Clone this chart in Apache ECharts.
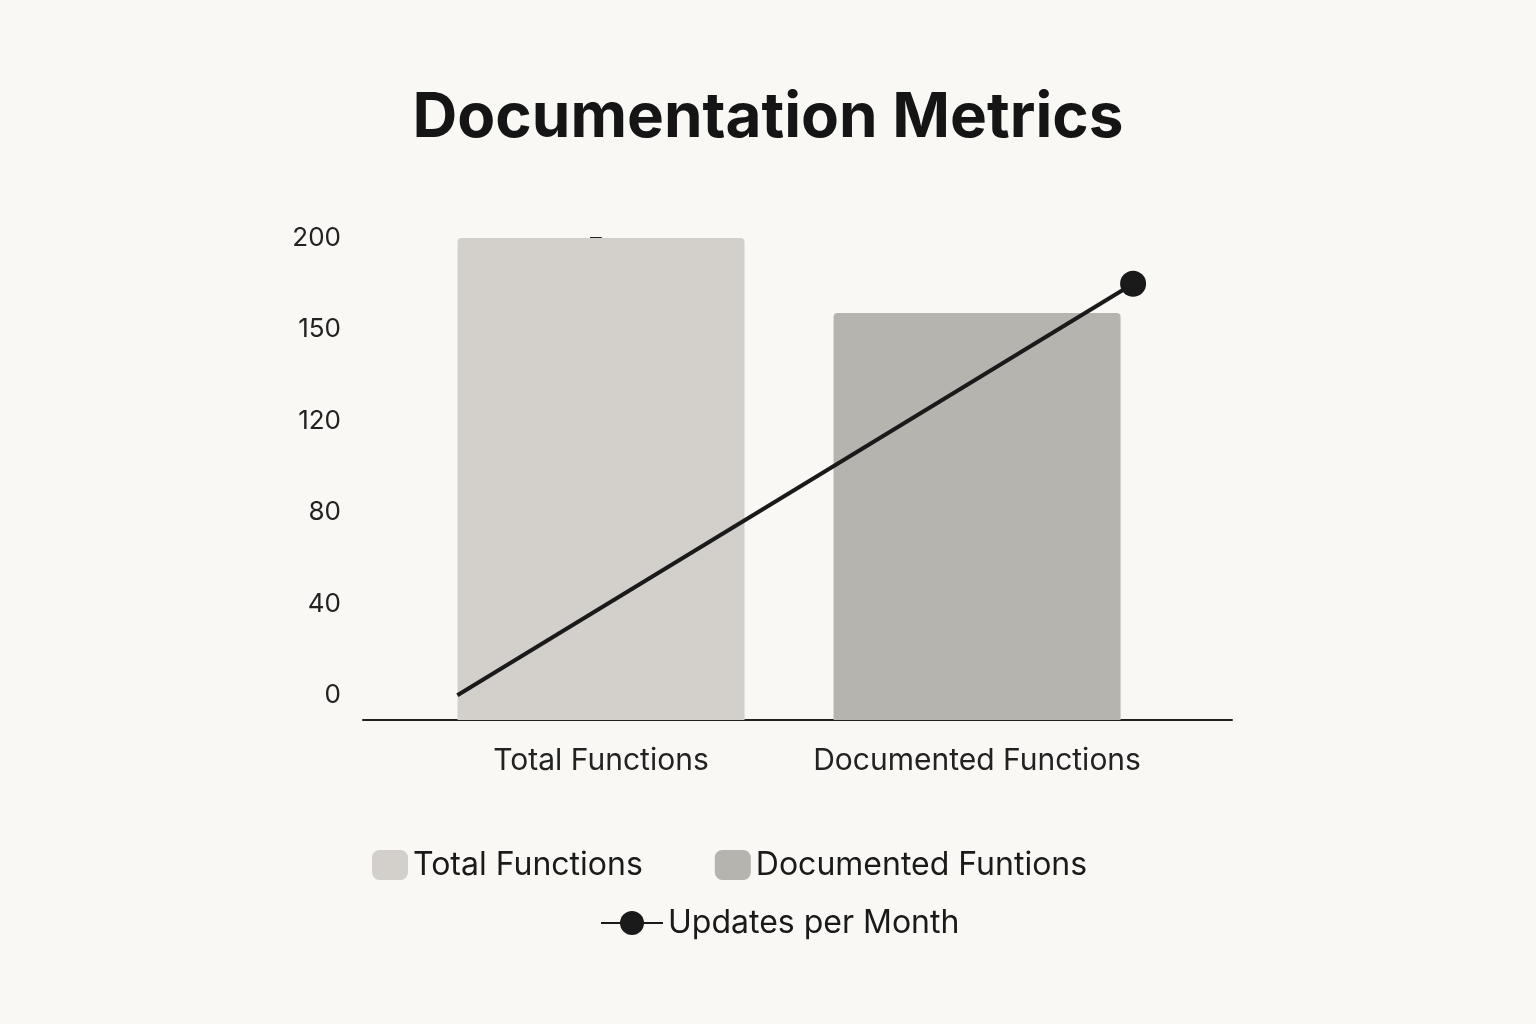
<!DOCTYPE html><html><head><meta charset="utf-8">
<script src="https://cdn.jsdelivr.net/npm/echarts@6/dist/echarts.min.js"></script>
<style>html,body{margin:0;background:#f9f8f4}#c{width:1536px;height:1024px}</style></head><body><div id="c"></div><script>
const categories=['Total Functions','Documented Functions'];
const yTickLabels=[0,40,80,120,150,200];
const totalFunctions=[200];
const documentedFunctions=[159];
const updatesPerMonth=[0,175];
const OFF=0.27;
function toIdx(v){for(let i=0;i<yTickLabels.length-1;i++){const a=yTickLabels[i],b=yTickLabels[i+1];if(v<=b)return OFF+i+(v-a)/(b-a);}return OFF+yTickLabels.length-1;}
const ticks=yTickLabels.map((v,i)=>OFF+i);
const chart=echarts.init(document.getElementById('c'));
const F='Inter, "Noto Sans", sans-serif';
chart.setOption({backgroundColor:'#f9f8f4',
title:{text:'Documentation Metrics',left:'center',top:82,textStyle:{fontFamily:F,fontSize:62,fontWeight:'bold',color:'#151515'}},
legend:[{data:['Total Functions','Documented Funtions'],left:367,top:844,itemWidth:36,itemHeight:30,itemGap:72,textStyle:{fontFamily:F,fontSize:32,color:'#1a1a1a'}},
{data:['Updates per Month'],left:595,top:902,itemWidth:62,itemHeight:30,textStyle:{fontFamily:F,fontSize:32,color:'#1a1a1a'}}],
grid:{left:363,right:304,top:238,bottom:304},
xAxis:{type:'value',min:-0.633,max:1.678,splitLine:{show:false},axisLine:{show:true,onZero:false,lineStyle:{color:'#222',width:2}},axisTick:{show:false},
axisLabel:{customValues:[0,1],formatter:v=>categories[Math.round(v)],fontFamily:F,fontSize:30,color:'#222',margin:26,showMinLabel:true,showMaxLabel:true}},
yAxis:{type:'value',min:0,max:OFF+5,splitLine:{show:false},axisLine:{show:true,lineStyle:{color:'#222',width:2}},
axisTick:{show:true,customValues:ticks,length:11,lineStyle:{color:'#222',width:2}},
axisLabel:{customValues:ticks,formatter:v=>String(yTickLabels[Math.round(v-OFF)]),fontFamily:F,fontSize:26,color:'#222',margin:22}},
series:[
{name:'Total Functions',type:'bar',barWidth:287,barGap:'-100%',data:totalFunctions.map(v=>[0,toIdx(v)]),itemStyle:{color:'#d3d0cc',borderRadius:[4,4,0,0]}},
{name:'Documented Funtions',type:'bar',barWidth:287,barGap:'-100%',data:documentedFunctions.map(v=>[1,toIdx(v)]),itemStyle:{color:'#b6b4af',borderRadius:[4,4,0,0]}},
{name:'Updates per Month',type:'line',data:[{value:[-0.382,toIdx(updatesPerMonth[0])],symbol:'none'},{value:[1.415,toIdx(updatesPerMonth[1])],symbol:'circle',symbolSize:26}],
lineStyle:{color:'#1a1a1a',width:4},itemStyle:{color:'#1a1a1a'},symbol:'none'}
]});
</script></body></html>
